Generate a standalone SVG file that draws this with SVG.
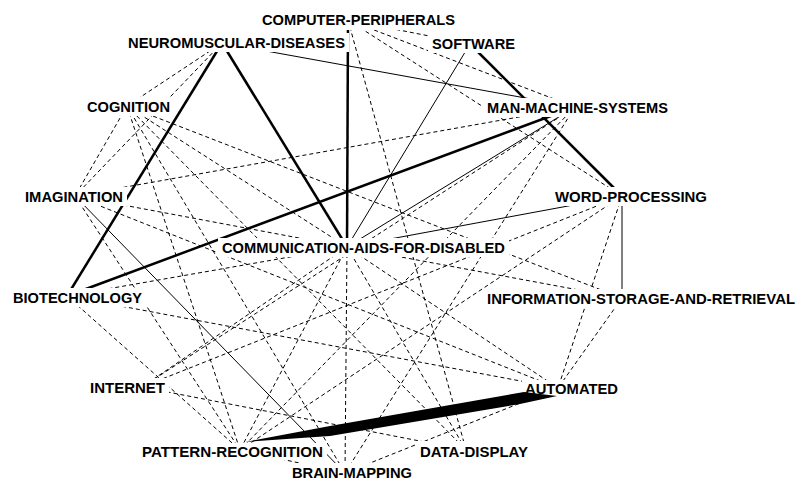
<svg xmlns="http://www.w3.org/2000/svg" width="800" height="480" viewBox="0 0 800 480">
  <style>
    .e { stroke: #000; fill: none; }
    .d { stroke-width: 1; stroke-dasharray: 4 3; }
    .t1 { stroke-width: 1; }
    .t3 { stroke-width: 2.5; }
    .bg { fill: #fff; }
    .lb { font-family: "Liberation Sans", Arial, sans-serif; font-weight: bold; font-size: 15px; fill: #000; }
  </style>
  <rect width="800" height="480" fill="#fff"/>

  <g id="edges">
    <!-- weak ties -->
    <line class="e d" x1="348" y1="20" x2="470" y2="44"/>
    <line class="e d" x1="348" y1="20" x2="575" y2="107"/>
    <line class="e d" x1="348" y1="20" x2="622" y2="196"/>
    <line class="e d" x1="348" y1="20" x2="466" y2="450"/>
    <line class="e d" x1="222" y1="43" x2="127" y2="106"/>
    <line class="e d" x1="222" y1="43" x2="75" y2="196"/>
    <line class="e d" x1="127" y1="106" x2="75" y2="196"/>
    <line class="e d" x1="127" y1="106" x2="240" y2="450"/>
    <line class="e d" x1="127" y1="106" x2="466" y2="450"/>
    <line class="e d" x1="127" y1="106" x2="622" y2="298"/>
    <line class="e d" x1="127" y1="106" x2="347" y2="247"/>
    <line class="e d" x1="127" y1="106" x2="345" y2="473"/>
    <line class="e d" x1="75" y1="196" x2="575" y2="107"/>
    <line class="e d" x1="75" y1="196" x2="347" y2="247"/>
    <line class="e d" x1="75" y1="196" x2="558" y2="388"/>
    <line class="e d" x1="75" y1="196" x2="240" y2="450"/>
    <line class="e d" x1="67" y1="296" x2="347" y2="247"/>
    <line class="e d" x1="67" y1="296" x2="240" y2="450"/>
    <line class="e d" x1="67" y1="296" x2="558" y2="388"/>
    <line class="e d" x1="347" y1="247" x2="622" y2="298"/>
    <line class="e d" x1="347" y1="247" x2="558" y2="388"/>
    <line class="e d" x1="347" y1="247" x2="466" y2="450"/>
    <line class="e d" x1="347" y1="247" x2="345" y2="473"/>
    <line class="e d" x1="347" y1="247" x2="240" y2="450"/>
    <line class="e d" x1="347" y1="247" x2="142" y2="387"/>
    <line class="e d" x1="575" y1="107" x2="345" y2="473"/>
    <line class="e d" x1="575" y1="107" x2="240" y2="450"/>
    <line class="e d" x1="575" y1="107" x2="142" y2="387"/>
    <line class="e d" x1="622" y1="196" x2="240" y2="450"/>
    <line class="e d" x1="622" y1="196" x2="558" y2="388"/>
    <line class="e d" x1="622" y1="196" x2="142" y2="387"/>
    <line class="e d" x1="622" y1="298" x2="558" y2="388"/>
    <line class="e d" x1="240" y1="450" x2="345" y2="473"/>
    <line class="e d" x1="558" y1="388" x2="345" y2="473"/>
    <line class="e d" x1="466" y1="450" x2="142" y2="387"/>

    <!-- medium ties -->
    <line class="e t1" x1="222" y1="43" x2="575" y2="107"/>
    <line class="e t1" x1="470" y1="44" x2="347" y2="247"/>
    <line class="e t1" x1="575" y1="107" x2="347" y2="247"/>
    <line class="e t1" x1="622" y1="196" x2="347" y2="247"/>
    <line class="e t1" x1="622" y1="196" x2="622" y2="298"/>
    <line class="e t1" x1="75" y1="196" x2="345" y2="473"/>

    <!-- strong ties -->
    <line class="e t3" x1="348" y1="20" x2="347" y2="247"/>
    <line class="e t3" x1="222" y1="43" x2="347" y2="247"/>
    <line class="e t3" x1="222" y1="43" x2="67" y2="296"/>
    <line class="e t3" x1="470" y1="44" x2="622" y2="196"/>
    <line class="e t3" x1="67" y1="296" x2="575" y2="107"/>
  </g>

  <g id="n-cp"><rect class="bg" x="258" y="11" width="201" height="19"/><text class="lb" x="262" y="25" textLength="193" lengthAdjust="spacingAndGlyphs">COMPUTER-PERIPHERALS</text></g>
  <g id="n-nd"><rect class="bg" x="124" y="33" width="225" height="19"/><text class="lb" x="128" y="48" textLength="217" lengthAdjust="spacingAndGlyphs">NEUROMUSCULAR-DISEASES</text></g>
  <g id="n-sw"><rect class="bg" x="428" y="34" width="91" height="19"/><text class="lb" x="432" y="49" textLength="83" lengthAdjust="spacingAndGlyphs">SOFTWARE</text></g>
  <g id="n-mms"><rect class="bg" x="483" y="98" width="189" height="19"/><text class="lb" x="487" y="113" textLength="181" lengthAdjust="spacingAndGlyphs">MAN-MACHINE-SYSTEMS</text></g>
  <g id="n-cog"><rect class="bg" x="83" y="97" width="91" height="19"/><text class="lb" x="87" y="112" textLength="83" lengthAdjust="spacingAndGlyphs">COGNITION</text></g>
  <g id="n-img"><rect class="bg" x="21" y="187" width="106" height="19"/><text class="lb" x="25" y="202" textLength="98" lengthAdjust="spacingAndGlyphs">IMAGINATION</text></g>
  <g id="n-wp"><rect class="bg" x="551" y="187" width="160" height="19"/><text class="lb" x="555" y="202" textLength="152" lengthAdjust="spacingAndGlyphs">WORD-PROCESSING</text></g>
  <g id="n-cad"><rect class="bg" x="218" y="238" width="291" height="19"/><text class="lb" x="222" y="253" textLength="283" lengthAdjust="spacingAndGlyphs">COMMUNICATION-AIDS-FOR-DISABLED</text></g>
  <g id="n-bio"><rect class="bg" x="9" y="288" width="137" height="19"/><text class="lb" x="13" y="303" textLength="129" lengthAdjust="spacingAndGlyphs">BIOTECHNOLOGY</text></g>
  <g id="n-isr"><rect class="bg" x="483" y="289" width="316" height="19"/><text class="lb" x="487" y="304" textLength="308" lengthAdjust="spacingAndGlyphs">INFORMATION-STORAGE-AND-RETRIEVAL</text></g>
  <g id="n-int"><rect class="bg" x="86" y="378" width="83" height="19"/><text class="lb" x="90" y="393" textLength="75" lengthAdjust="spacingAndGlyphs">INTERNET</text></g>
  <g id="n-aut"><rect class="bg" x="522" y="380" width="99" height="15"/><text class="lb" x="525" y="394" textLength="93" lengthAdjust="spacingAndGlyphs">AUTOMATED</text></g>
  <g id="n-pr"><rect class="bg" x="138" y="443" width="189" height="17"/><text class="lb" x="142" y="457" textLength="181" lengthAdjust="spacingAndGlyphs">PATTERN-RECOGNITION</text></g>
  <g id="n-dd"><rect class="bg" x="416" y="441" width="116" height="19"/><text class="lb" x="420" y="457" textLength="108" lengthAdjust="spacingAndGlyphs">DATA-DISPLAY</text></g>
  <g id="n-bm"><rect class="bg" x="288" y="463" width="128" height="19"/><text class="lb" x="292" y="478" textLength="120" lengthAdjust="spacingAndGlyphs">BRAIN-MAPPING</text></g>

  <!-- strongest tie drawn as a tapered band -->
  <g id="e-pr-aut"><polygon points="245,442 330,426 524,392 557,396 520,404 330,436" fill="#000"/></g>
</svg>
